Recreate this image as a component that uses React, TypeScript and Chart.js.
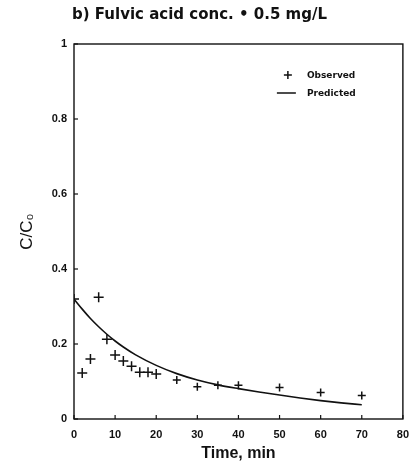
import React, { useEffect, useRef } from "react";
import { Chart, registerables } from "chart.js";

Chart.register(...registerables);

const TITLE = "b) Fulvic acid conc. • 0.5 mg/L";
const X_TITLE = "Time, min";
const Y_TITLE = "C/C₀";
const LEGEND_LABELS = ["Observed", "Predicted"];

const observedTime = [0, 2, 4, 6, 8, 10, 12, 14, 16, 18, 20, 25, 30, 35, 40, 50, 60, 70];
const observedRatio = [0.32, 0.123, 0.16, 0.325, 0.213, 0.171, 0.155, 0.141, 0.125, 0.125, 0.12, 0.104, 0.086, 0.09, 0.09, 0.084, 0.071, 0.063];

const predictedTime = [0, 2, 4, 6, 8, 10, 12, 15, 20, 25, 30, 35, 40, 45, 50, 55, 60, 65, 70];
const predictedRatio = [0.32, 0.293, 0.268, 0.246, 0.226, 0.208, 0.192, 0.171, 0.143, 0.121, 0.104, 0.091, 0.081, 0.072, 0.064, 0.056, 0.049, 0.043, 0.038];

const X_MIN = 0, X_MAX = 80, X_STEP = 10;
const Y_MIN = 0, Y_MAX = 1, Y_STEP = 0.2;

const decorPlugin = {
  id: "decor",
  afterDraw(chart: any) {
    const { ctx, chartArea } = chart;
    const { left, right, top, bottom } = chartArea;
    ctx.save();
    ctx.strokeStyle = "#111";
    ctx.lineWidth = 1.4;
    ctx.strokeRect(left, top, right - left, bottom - top);
    ctx.lineWidth = 1.2;
    const xs = chart.scales.x;
    xs.ticks.forEach((t: any) => {
      const px = xs.getPixelForValue(t.value);
      ctx.beginPath();
      ctx.moveTo(px, bottom);
      ctx.lineTo(px, bottom - 4);
      ctx.stroke();
    });
    const ys = chart.scales.y;
    ys.ticks.forEach((t: any) => {
      const py = ys.getPixelForValue(t.value);
      ctx.beginPath();
      ctx.moveTo(left, py);
      ctx.lineTo(left + 4, py);
      ctx.stroke();
    });
    ctx.fillStyle = "#111";
    ctx.font = "bold 15px 'DejaVu Sans'";
    ctx.textBaseline = "middle";
    ctx.textAlign = "left";
    ctx.fillText(TITLE, 72, 15);
    const lx = right - 126;
    const ly1 = top + 31;
    const ly2 = top + 49;
    ctx.lineWidth = 1.5;
    ctx.beginPath();
    ctx.moveTo(lx + 11 - 4, ly1);
    ctx.lineTo(lx + 11 + 4, ly1);
    ctx.moveTo(lx + 11, ly1 - 4);
    ctx.lineTo(lx + 11, ly1 + 4);
    ctx.stroke();
    ctx.beginPath();
    ctx.moveTo(lx, ly2);
    ctx.lineTo(lx + 19, ly2);
    ctx.stroke();
    ctx.font = "bold 9px 'DejaVu Sans'";
    ctx.fillText(LEGEND_LABELS[0], lx + 30, ly1 + 1);
    ctx.fillText(LEGEND_LABELS[1], lx + 30, ly2 + 1);
    ctx.restore();
  },
};

export default function App() {
  const ref = useRef<HTMLCanvasElement>(null);
  useEffect(() => {
    if (!ref.current) return;
    const chart = new Chart(ref.current, {
      type: "scatter",
      data: {
        datasets: [
          {
            label: LEGEND_LABELS[1],
            data: predictedTime.map((t, i) => ({ x: t, y: predictedRatio[i] })),
            showLine: true,
            borderColor: "#111",
            borderWidth: 1.6,
            pointRadius: 0,
            cubicInterpolationMode: "monotone",
            fill: false,
          } as any,
          {
            label: LEGEND_LABELS[0],
            data: observedTime.map((t, i) => ({ x: t, y: observedRatio[i] })),
            showLine: false,
            pointStyle: "cross",
            pointRadius: observedTime.map((t) => (t <= 20 ? 5 : 4)),
            borderColor: "#111",
            backgroundColor: "#111",
            pointBorderWidth: 1.5,
          } as any,
        ],
      },
      options: {
        responsive: false,
        animation: false,
        layout: { padding: { left: 0, right: 10, top: 44, bottom: 0 } },
        plugins: {
          legend: { display: false },
          title: { display: false },
          tooltip: { enabled: false },
        },
        scales: {
          x: {
            type: "linear",
            min: X_MIN,
            max: X_MAX,
            afterFit: (s: any) => { s.height = 49; },
            grid: { display: false, drawTicks: false },
            border: { display: false },
            ticks: {
              stepSize: X_STEP,
              padding: 9,
              color: "#111",
              font: { family: "'Liberation Sans'", weight: "bold", size: 11 },
              maxRotation: 0,
            },
            title: {
              display: true,
              text: X_TITLE,
              color: "#111",
              font: { family: "'Liberation Sans'", weight: "bold", size: 16 },
              padding: { top: 0, bottom: 5 },
            },
          },
          y: {
            type: "linear",
            min: Y_MIN,
            max: Y_MAX,
            afterFit: (s: any) => { s.width = 74; },
            grid: { display: false, drawTicks: false },
            border: { display: false },
            ticks: {
              stepSize: Y_STEP,
              padding: 7,
              color: "#111",
              font: { family: "'Liberation Sans'", weight: "bold", size: 11 },
              callback: (v: any) => String(Math.round(Number(v) * 10) / 10),
            },
            title: {
              display: true,
              text: Y_TITLE,
              color: "#111",
              font: { family: "'Liberation Sans'", weight: "normal", size: 17 },
              padding: { top: 17, bottom: 0 },
            },
          },
        },
      },
      plugins: [decorPlugin],
    });
    return () => chart.destroy();
  }, []);
  return (
    <div style={{ position: "fixed", left: 0, top: 0, width: 418, height: 468, background: "#fff" }}>
      <canvas ref={ref} width={418} height={468} style={{ display: "block" }} />
    </div>
  );
}
